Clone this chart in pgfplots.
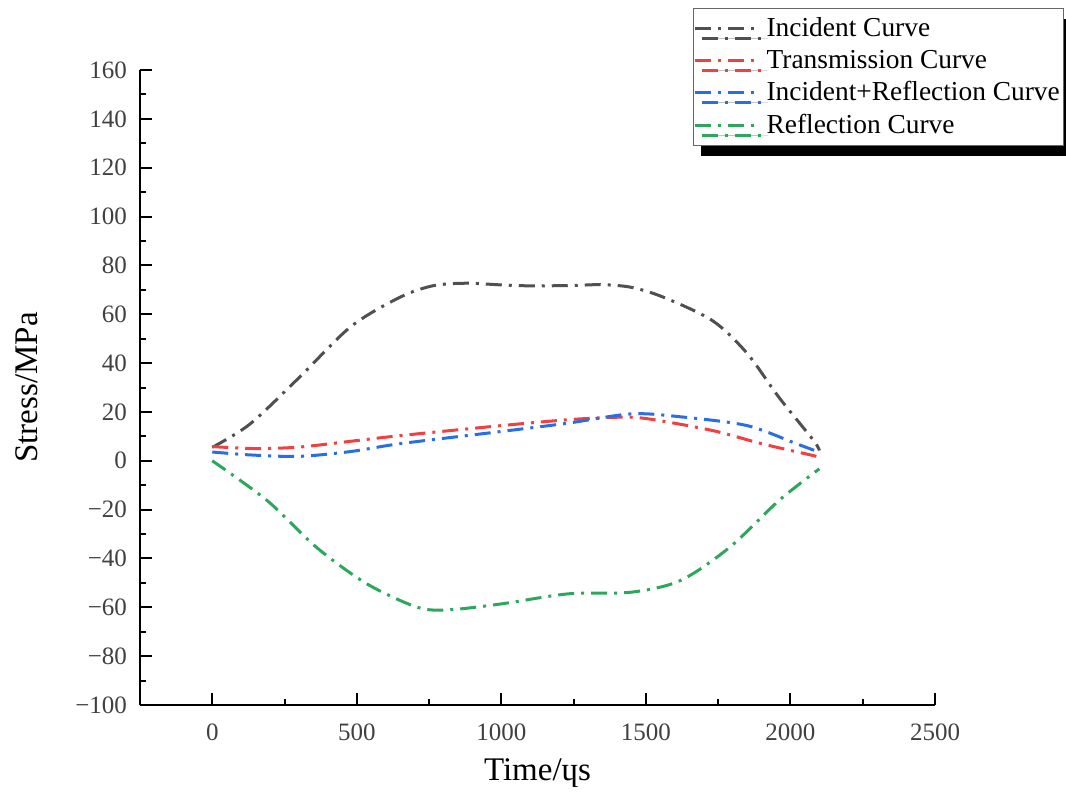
\documentclass[border=0pt]{standalone}
\usepackage{fontspec}
\setmainfont{Liberation Serif}
\usepackage{pgfplots}
\pgfplotsset{compat=1.18}
\usetikzlibrary{shadows}
\definecolor{cInc}{RGB}{80,80,80}
\definecolor{cTra}{RGB}{240,64,64}
\definecolor{cIR}{RGB}{40,110,228}
\definecolor{cRef}{RGB}{44,168,92}
\begin{document}
\begin{tikzpicture}
\begin{axis}[
  at={(0,0)}, anchor=south west,
  scale only axis, width=397.5pt, height=317.5pt,
  xmin=-250, xmax=2500, ymin=-100, ymax=160,
  axis x line=bottom, axis y line=left,
  axis line style={-, line width=1pt},
  tick align=inside,
  major tick length=6pt, minor tick length=3pt,
  every tick/.style={line width=1pt, black},
  minor x tick num=1, minor y tick num=1,
  xtick={0,500,1000,1500,2000,2500},
  ytick={-100,-80,...,160},
  yticklabels={−100,−80,−60,−40,−20,0,20,40,60,80,100,120,140,160},
  /pgf/number format/assume math mode=true,
  /pgf/number format/1000 sep={},
  ticklabel style={font=\fontsize{12.5}{14}\selectfont, text=black!75},
  xticklabel style={yshift=-6pt},
  yticklabel style={xshift=-3pt},
  xlabel={Time/ɥs}, ylabel={Stress/MPa},
  label style={font=\fontsize{16.5}{19}\selectfont},
  xlabel style={yshift=-2pt},
  ylabel style={yshift=12pt},
  legend style={at={(0.6956,1.0976)}, anchor=north west,
    font=\fontsize{13.7}{17}\selectfont, draw=black!60, line width=0.6pt,
    fill=white, inner xsep=0pt, inner ysep=2.5pt,
    row sep=1.2pt,
    drop shadow={shadow xshift=3.5pt, shadow yshift=-5pt, fill=black, opacity=1},
    legend cell align=left},
  legend image code/.code={\draw[#1, line width=1.5pt] (0pt,0pt) -- (29pt,0pt);
     \path (0pt,0pt) -- (33pt,0pt);},
  every axis plot/.append style={line width=1.5pt, dash pattern=on 8pt off 3.5pt on 1.5pt off 3.5pt},
]
\addplot[cInc, smooth] coordinates {
(0,5.5) (130,15) (300,34) (480,55) (650,67) (765,71.7) (880,72.7) (1000,72)
(1110,71.6) (1250,71.8) (1350,72.1) (1450,71) (1560,67) (1730,57.4) (1850,44)
(1960,26) (2080,8.3) (2100,4.2)};
\addlegendentry{Incident Curve}
\addplot[cTra, smooth] coordinates {
(0,5.8) (150,5) (300,5.6) (480,8) (650,10.3) (1000,14.4) (1230,16.8) (1390,17.8)
(1500,17.3) (1730,12.4) (1900,7) (2080,2.1) (2100,1.5)};
\addlegendentry{Transmission Curve}
\addplot[cIR, smooth] coordinates {
(0,3.6) (130,2.4) (300,1.8) (480,3.8) (650,7) (1000,12) (1230,15.4) (1450,19.2)
(1620,18) (1850,14.4) (2020,7) (2100,3.5)};
\addlegendentry{Incident+Reflection Curve}
\addplot[cRef, smooth] coordinates {
(0,0) (190,-16.3) (360,-35.4) (535,-50.4) (710,-60) (820,-61) (1000,-58.6)
(1230,-54.5) (1450,-53.8) (1620,-49) (1790,-35.4) (1960,-16.3) (2100,-3.3)};
\addlegendentry{Reflection Curve}
\end{axis}
\pgfresetboundingbox
\path (-70pt,-44.5pt) rectangle (463pt,352.5pt);
\end{tikzpicture}
\end{document}
